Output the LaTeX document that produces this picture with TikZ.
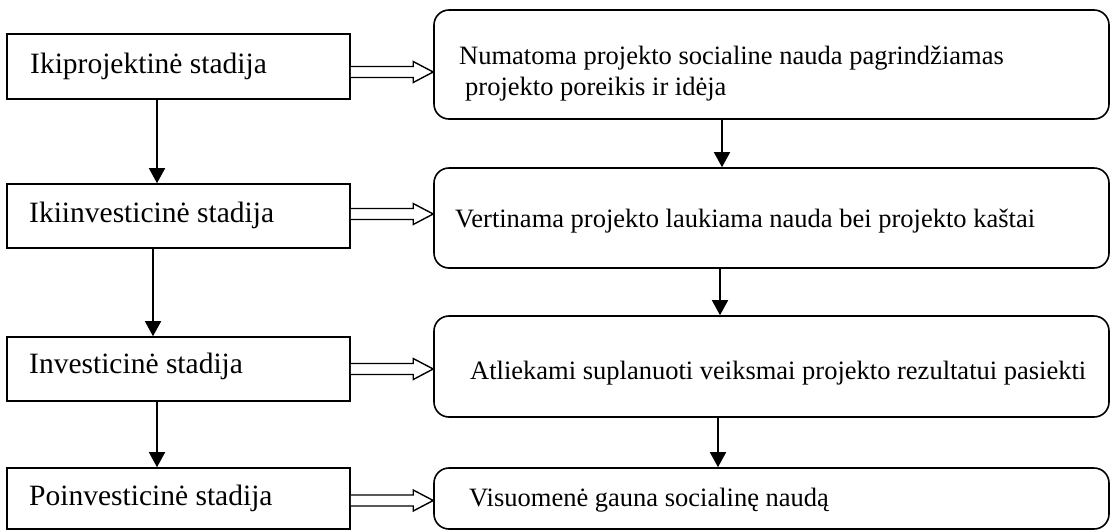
\documentclass[tikz,border=0pt]{standalone}
\usepackage{fontspec}
\setmainfont{Liberation Serif}
\usetikzlibrary{arrows.meta,calc}

\tikzset{
  stagebox/.style={draw, line width=1.6pt, rectangle, minimum width=343pt, inner sep=0pt},
  actbox/.style={draw, line width=1.6pt, rectangle, rounded corners=15pt, minimum width=675pt, inner sep=0pt},
  stagetext/.style={anchor=base west, inner sep=0pt, font=\fontsize{29.5}{35}\selectfont},
  acttext/.style={anchor=base west, inner sep=0pt, align=left, font=\fontsize{26.5}{31}\selectfont},
  flow/.style={line width=1.6pt, -{Triangle[length=15pt,width=16pt]}},
  fat/.style={line width=1.4pt, draw=black, fill=white, line join=miter}
}

% hollow block arrow from the east side of #1 to the west side of #2, at height #3 relative to #1
\newcommand{\fatarrow}[3]{%
  \path let \p1=(#1.east), \p2=(#2.west) in
    [fat] (\x1,{\y1+#3+5.5pt}) -- ({\x2-20pt},{\y1+#3+5.5pt}) -- ({\x2-20pt},{\y1+#3+10.5pt})
    -- (\x2,{\y1+#3}) -- ({\x2-20pt},{\y1+#3-10.5pt}) -- ({\x2-20pt},{\y1+#3-5.5pt})
    -- (\x1,{\y1+#3-5.5pt});%
}

\begin{document}
\begin{tikzpicture}[x=1pt,y=1pt]
\useasboundingbox (0,0) rectangle (1111,-531);

% stages
\node[stagebox, minimum height=65pt] (l1) at (178.5,-66.5) {};
\node[stagebox, minimum height=64pt] (l2) at (178.5,-216) {};
\node[stagebox, minimum height=64pt] (l3) at (178.5,-369) {};
\node[stagebox, minimum height=61pt] (l4) at (178.5,-498.5) {};

\node[stagetext] (t1) at (30,-73) {Ikiprojektinė stadija};
\node[stagetext] (t2) at (29,-222) {Ikiinvesticinė stadija};
\node[stagetext] (t3) at (29,-373) {Investicinė stadija};
\node[stagetext] (t4) at (29,-505) {Poinvesticinė stadija};

% activities
\node[actbox, minimum height=109pt] (r1) at (771.5,-64.5) {};
\node[actbox, minimum height=100pt] (r2) at (771.5,-218) {};
\node[actbox, minimum height=101pt] (r3) at (771.5,-366.5) {};
\node[actbox, minimum height=61pt] (r4) at (771.5,-498.5) {};

% two-line text: base anchor sits on the last line
\node[acttext] (s1) at (459,-95) {Numatoma projekto socialine nauda pagrindžiamas\\\hspace*{6pt}projekto poreikis ir idėja};
\node[acttext] (s2) at (455,-227) {Vertinama projekto laukiama nauda bei projekto kaštai};
\node[acttext] (s3) at (470,-379) {Atliekami suplanuoti veiksmai projekto rezultatui pasiekti};
\node[acttext] (s4) at (469,-506) {Visuomenė gauna socialinę naudą};

% stage sequence
\draw[flow] ([xshift=-21.5pt]l1.south) -- ([xshift=-21.5pt]l2.north);
\draw[flow] ([xshift=-25.5pt]l2.south) -- ([xshift=-25.5pt]l3.north);
\draw[flow] ([xshift=-21.5pt]l3.south) -- ([xshift=-21.5pt]l4.north);

% activity sequence
\draw[flow] ([xshift=-49.5pt]r1.south) -- ([xshift=-49.5pt]r2.north);
\draw[flow] ([xshift=-51.5pt]r2.south) -- ([xshift=-51.5pt]r3.north);
\draw[flow] ([xshift=-53.5pt]r3.south) -- ([xshift=-53.5pt]r4.north);

% stage to activity
\fatarrow{l1}{r1}{-5.5pt}
\fatarrow{l2}{r2}{2pt}
\fatarrow{l3}{r3}{0pt}
\fatarrow{l4}{r4}{-2pt}
\end{tikzpicture}
\end{document}
